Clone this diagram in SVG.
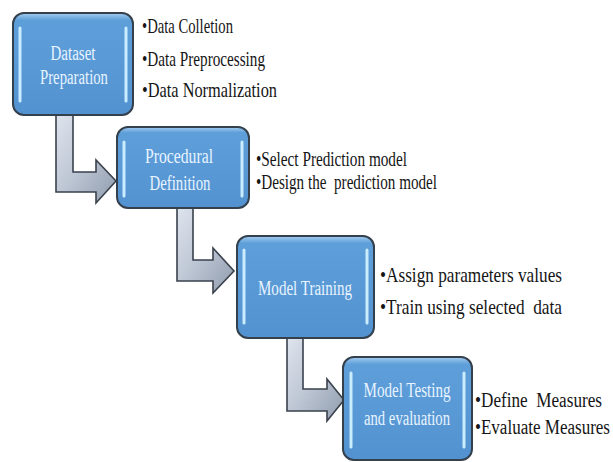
<svg xmlns="http://www.w3.org/2000/svg" width="613" height="462" viewBox="0 0 613 462">
<defs>
<linearGradient id="boxGrad" x1="0" y1="0" x2="0" y2="1">
<stop offset="0" stop-color="#a6cdf0"/>
<stop offset="0.07" stop-color="#5e9fda"/>
<stop offset="1" stop-color="#5392d0"/>
</linearGradient>
<linearGradient id="arrowGrad" x1="0" y1="0" x2="1" y2="1">
<stop offset="0" stop-color="#dfe5ee"/>
<stop offset="0.5" stop-color="#bcc5d3"/>
<stop offset="1" stop-color="#8f9bad"/>
</linearGradient>
<style>
.box{fill:url(#boxGrad);stroke:#34404c;stroke-width:2}
.hl{stroke:#c9ecff;stroke-width:3;stroke-linecap:round}
.arrow{fill:url(#arrowGrad);stroke:#3a424d;stroke-width:1.6;stroke-linejoin:miter}
.lbl{font-family:'Liberation Serif','DejaVu Serif',serif;font-size:20px;fill:#e8f4ff;text-anchor:middle}
.bul{font-family:'Liberation Serif','DejaVu Serif',serif;font-size:21px;fill:#151515;white-space:pre}
.sm{font-size:20px}
</style>
</defs>
<rect width="613" height="462" fill="#ffffff"/>
<g id="connectors">
<path class="arrow" d="M56,114 L73,114 L73,172 L96,172 L96,160 L116,181 L96,203 L96,192 L56,192 Z"/>
<path class="arrow" d="M177,207 L193,207 L193,260 L213,260 L213,248 L234,271 L213,293 L213,281 L177,281 Z"/>
<path class="arrow" d="M287,337 L303,337 L303,389 L327,389 L327,379 L344,400 L327,421 L327,411 L287,411 Z"/>
</g>
<g id="node1">
<rect class="box" x="13" y="13" width="120" height="102" rx="11"/>
<line class="hl" x1="20" y1="28" x2="20" y2="101"/>
<line class="hl" x1="126" y1="28" x2="126" y2="101"/>
<text class="lbl" x="73" y="60" textLength="45" lengthAdjust="spacingAndGlyphs">Dataset</text>
<text class="lbl" x="74" y="84" textLength="68" lengthAdjust="spacingAndGlyphs">Preparation</text>
</g>
<g id="bullets1">
<text class="bul" x="142" y="33" textLength="91" lengthAdjust="spacingAndGlyphs">•Data Colletion</text>
<text class="bul" x="142" y="66" textLength="123" lengthAdjust="spacingAndGlyphs">•Data Preprocessing</text>
<text class="bul" x="142" y="97" textLength="135" lengthAdjust="spacingAndGlyphs">•Data Normalization</text>
</g>
<g id="node2">
<rect class="box" x="117" y="127" width="132" height="81" rx="11"/>
<line class="hl" x1="124" y1="142" x2="124" y2="196"/>
<line class="hl" x1="242" y1="142" x2="242" y2="196"/>
<text class="lbl" x="179" y="163" textLength="68" lengthAdjust="spacingAndGlyphs">Procedural</text>
<text class="lbl" x="180" y="190" textLength="61" lengthAdjust="spacingAndGlyphs">Definition</text>
</g>
<g id="bullets2">
<text class="bul sm" x="256" y="166" textLength="151" lengthAdjust="spacingAndGlyphs">•Select Prediction model</text>
<text class="bul sm" x="256" y="189" textLength="181" lengthAdjust="spacingAndGlyphs">•Design the  prediction model</text>
</g>
<g id="node3">
<rect class="box" x="237" y="236" width="137" height="102" rx="11"/>
<line class="hl" x1="244" y1="250" x2="244" y2="323"/>
<line class="hl" x1="367" y1="250" x2="367" y2="323"/>
<text class="lbl" x="305" y="295" textLength="94" lengthAdjust="spacingAndGlyphs">Model Training</text>
</g>
<g id="bullets3">
<text class="bul" x="380" y="282" textLength="182" lengthAdjust="spacingAndGlyphs">•Assign parameters values</text>
<text class="bul" x="380" y="314" textLength="182" lengthAdjust="spacingAndGlyphs">•Train using selected  data</text>
</g>
<g id="node4">
<rect class="box" x="343" y="357" width="129" height="103" rx="11"/>
<line class="hl" x1="351" y1="373" x2="351" y2="447"/>
<line class="hl" x1="464" y1="373" x2="464" y2="447"/>
<text class="lbl" x="407" y="397" textLength="87" lengthAdjust="spacingAndGlyphs">Model Testing</text>
<text class="lbl" x="407" y="425" textLength="86" lengthAdjust="spacingAndGlyphs">and evaluation</text>
</g>
<g id="bullets4">
<text class="bul sm" x="475" y="407" textLength="127" lengthAdjust="spacingAndGlyphs">•Define  Measures</text>
<text class="bul sm" x="475" y="434" textLength="135" lengthAdjust="spacingAndGlyphs">•Evaluate Measures</text>
</g>
</svg>
